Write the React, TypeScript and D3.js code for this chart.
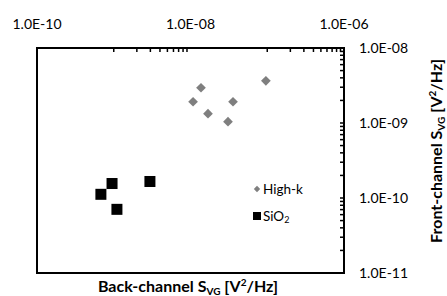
import React, { useEffect, useRef } from 'react';
import * as d3 from 'd3';

// back-channel / front-channel noise
const highkX = [9.6e-8, 1.37e-8, 1.08e-8, 3.58e-8, 1.69e-8, 3.08e-8];
const highkY = [3.65e-9, 2.95e-9, 1.92e-9, 1.92e-9, 1.33e-9, 1.04e-9];
const sio2X = [9.5e-10, 6.8e-10, 1.1e-9, 2.96e-9];
const sio2Y = [1.56e-10, 1.12e-10, 7.06e-11, 1.66e-10];

const xTicks = [1e-10, 1e-8, 1e-6];
const yTicks = [1e-8, 1e-9, 1e-10, 1e-11];
const xMinorDecades = [1e-9, 1e-7];
const yMinorDecades = [1e-11, 1e-10, 1e-9];
const legendNames = ['High-k', 'SiO'];

const fmt = (v: number) => '1.0E-' + String(-Math.round(Math.log10(v))).padStart(2, '0');

function App() {
  const ref = useRef<SVGSVGElement>(null);

  useEffect(() => {
    const svg = d3.select(ref.current);
    svg.selectAll('*').remove();

    const left = 37, right = 344, top = 48, bottom = 273;
    const font = 'Lato, "Open Sans", sans-serif';

    const x = d3.scaleLog().domain([1e-10, 1e-6]).range([left, right]);
    const y = d3.scaleLog().domain([1e-11, 1e-8]).range([bottom, top]);

    const g = svg.append('g');

    // minor ticks, top axis (inward)
    const xMinor: number[] = [];
    xMinorDecades.forEach(d => { for (let n = 1; n <= 9; n++) xMinor.push(n * d); });
    g.selectAll('.xminor').data(xMinor).join('line')
      .attr('x1', d => x(d)).attr('x2', d => x(d))
      .attr('y1', top).attr('y2', top + 4)
      .attr('stroke', '#000').attr('stroke-width', 1.5);

    // minor ticks, right axis (inward)
    const yMinor: number[] = [];
    yMinorDecades.forEach(d => { for (let n = 1; n <= 9; n++) yMinor.push(n * d); });
    g.selectAll('.yminor').data(yMinor).join('line')
      .attr('x1', right - 4).attr('x2', right)
      .attr('y1', d => y(d)).attr('y2', d => y(d))
      .attr('stroke', '#000').attr('stroke-width', 1.5);

    // frame
    g.append('rect')
      .attr('x', left).attr('y', top)
      .attr('width', right - left).attr('height', bottom - top)
      .attr('fill', 'none').attr('stroke', '#000').attr('stroke-width', 2);

    // tick labels
    g.selectAll('.xlab').data(xTicks).join('text')
      .attr('x', d => x(d)).attr('y', 29)
      .attr('text-anchor', 'middle')
      .style('font-family', font).style('font-size', '14px')
      .text(d => fmt(d));

    g.selectAll('.ylab').data(yTicks).join('text')
      .attr('x', 359).attr('y', d => y(d) + 5)
      .style('font-family', font).style('font-size', '14px')
      .text(d => fmt(d));

    // points
    const hk = highkX.map((v, i) => [v, highkY[i]]);
    const so = sio2X.map((v, i) => [v, sio2Y[i]]);

    g.selectAll('.hk').data(hk).join('path')
      .attr('d', d3.symbol(d3.symbolDiamond2, 60))
      .attr('transform', d => `translate(${x(d[0])},${y(d[1])})`)
      .attr('fill', '#7f7f7f');

    g.selectAll('.so').data(so).join('rect')
      .attr('x', d => x(d[0]) - 5.5).attr('y', d => y(d[1]) - 5.5)
      .attr('width', 11).attr('height', 11)
      .attr('fill', '#000');

    // legend
    g.append('path')
      .attr('d', d3.symbol(d3.symbolDiamond2, 26))
      .attr('transform', 'translate(257,189)')
      .attr('fill', '#7f7f7f');
    g.append('text').attr('x', 263).attr('y', 194)
      .style('font-family', font).style('font-size', '13.5px')
      .text(legendNames[0]);
    g.append('rect').attr('x', 253).attr('y', 212).attr('width', 8).attr('height', 8).attr('fill', '#000');
    const t2 = g.append('text').attr('x', 263).attr('y', 221)
      .style('font-family', font).style('font-size', '13.5px');
    t2.append('tspan').text(legendNames[1]);
    t2.append('tspan').attr('dy', 2).style('font-size', '9px').text('2');

    // axis titles
    const xt = g.append('text').attr('x', 188).attr('y', 292)
      .attr('text-anchor', 'middle')
      .style('font-family', font).style('font-size', '16px').style('font-weight', 'bold');
    xt.append('tspan').text('Back-channel S');
    xt.append('tspan').attr('dy', 3).style('font-size', '10px').text('VG');
    xt.append('tspan').attr('dy', -3).text(' [V');
    xt.append('tspan').attr('dy', -6).style('font-size', '10px').text('2');
    xt.append('tspan').attr('dy', 6).text('/Hz]');

    const yt = g.append('text')
      .attr('transform', 'translate(442,151) rotate(-90)')
      .attr('text-anchor', 'middle')
      .style('font-family', font).style('font-size', '16px').style('font-weight', 'bold');
    yt.append('tspan').text('Front-channel S');
    yt.append('tspan').attr('dy', 3).style('font-size', '10px').text('VG');
    yt.append('tspan').attr('dy', -3).text(' [V');
    yt.append('tspan').attr('dy', -6).style('font-size', '10px').text('2');
    yt.append('tspan').attr('dy', 6).text('/Hz]');
  }, []);

  return (
    <svg ref={ref} width={447} height={296}
      style={{ position: 'absolute', left: 0, top: 0, background: '#fff' }} />
  );
}

export default App;
